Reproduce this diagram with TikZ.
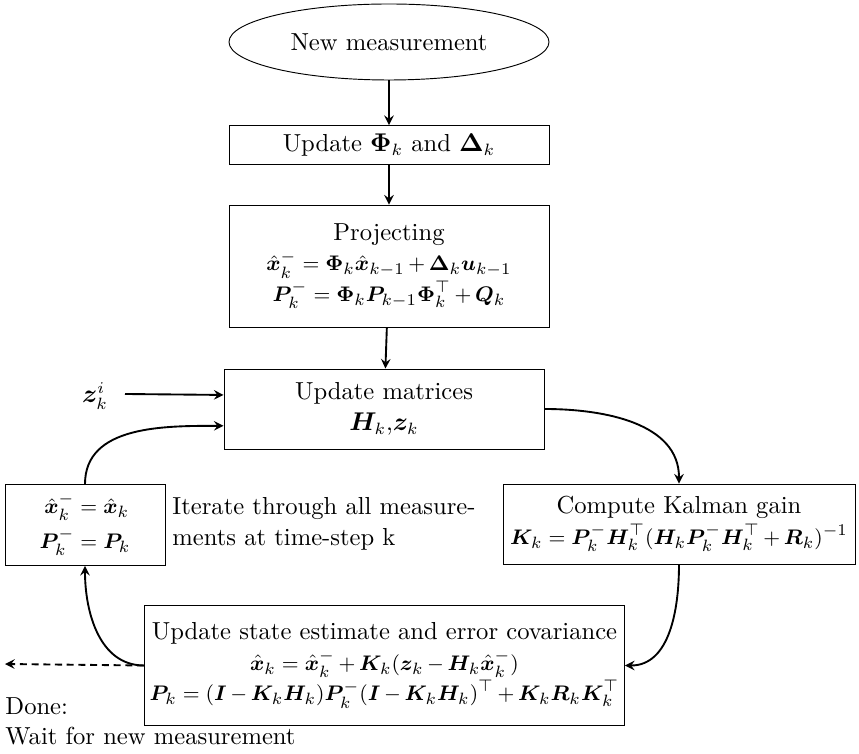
\documentclass[tikz,border=0pt]{standalone}
\usepackage{amsmath}
\usepackage{amssymb}
\usepackage{bm}
\usepackage{xcolor}
\usetikzlibrary{shapes.geometric}

\newcommand{\eqsz}{\fontsize{9.5}{13}\selectfont\medmuskip=3mu plus 2mu minus 2mu}

\begin{document}
\begin{tikzpicture}[
    x=0.015cm, y=-0.015cm,
    font=\fontsize{10.5}{13}\selectfont,
    box/.style={
        rectangle,
        draw,
        minimum width=4.8cm,
        align=center,
        inner sep=2pt
    },
    arrow/.style={->, >=stealth, thick}
]
\useasboundingbox (0,0) rectangle (859,754);

\node[ellipse, draw, minimum width=4.8cm, minimum height=1.14cm] (meas) at (389,42) {New measurement};
\node[box, minimum height=0.585cm] (phi) at (389,145) {Update $\bm{\Phi}_k$ and $\bm{\Delta}_k$};
\node[box, minimum height=1.83cm] (proj) at (389,266) {Projecting\\
    {\eqsz$\hat{\bm{x}}_k^- = \bm{\Phi}_k\hat{\bm{x}}_{k-1} + \bm{\Delta}_k\bm{u}_{k-1}$}\\
    {\eqsz$\bm{P}_k^- = \bm{\Phi}_k\bm{P}_{k-1}\bm{\Phi}_k^\top + \bm{Q}_k$}};
\node[box, minimum height=1.2cm] (hz) at (384,409) {Update matrices\\ $\bm{H}_k$,$\bm{z}_k$};
\node (zk) at (95,396) {$\bm{z}_k^i$};
\coordinate (zin) at (125,394);
\node[box, minimum width=5.28cm, minimum height=1.2cm] (kalman) at (679,524) {Compute Kalman gain\\
    {\eqsz$\bm{K}_k = \bm{P}_k^-\bm{H}_k^\top(\bm{H}_k\bm{P}_k^-\bm{H}_k^\top + \bm{R}_k)^{-1}$}};
\node[box, minimum width=2.4cm, minimum height=1.215cm] (reset) at (85,525) {\eqsz$\begin{aligned}
    \hat{\bm{x}}_k^- &= \hat{\bm{x}}_k\\[-1pt]
    \bm{P}_k^- &= \bm{P}_k
    \end{aligned}$};
\node[anchor=west, align=left, inner sep=0pt] (iter) at (172,524) {Iterate through all measure-\\ ments at time-step k};
\node[box, minimum width=7.2cm, minimum height=1.8cm] (upd) at (384.5,665.5) {Update state estimate and error covariance\\
    {\eqsz$\hat{\bm{x}}_k = \hat{\bm{x}}_k^- + \bm{K}_k(\bm{z}_k - \bm{H}_k\hat{\bm{x}}_k^-)$}\\
    {\eqsz$\bm{P}_k = (\bm{I} - \bm{K}_k\bm{H}_k)\bm{P}_k^-(\bm{I} - \bm{K}_k\bm{H}_k)^\top + \bm{K}_k\bm{R}_k\bm{K}_k^\top$}};
\node[anchor=north west, align=left, inner sep=0pt] (done) at (5,697) {Done:\\ Wait for new measurement};
\coordinate (exit) at (5,664);

\draw[arrow] (meas) -- (phi);
\draw[arrow] (phi) -- (proj);
\draw[arrow] (proj) -- (hz);
\draw[arrow] (zin) -- (hz.175);
\draw[arrow] (hz.east) to[out=0, in=90] (kalman.north);
\draw[arrow] (kalman.south) to[out=-90, in=0] (upd.east);
\draw[arrow] (upd.west) to[out=180, in=-90] (reset.south);
\draw[arrow] (reset.north) to[out=90, in=180] (hz.186);
\draw[arrow, densely dashed] (upd.west) -- (exit);

\end{tikzpicture}
\end{document}
